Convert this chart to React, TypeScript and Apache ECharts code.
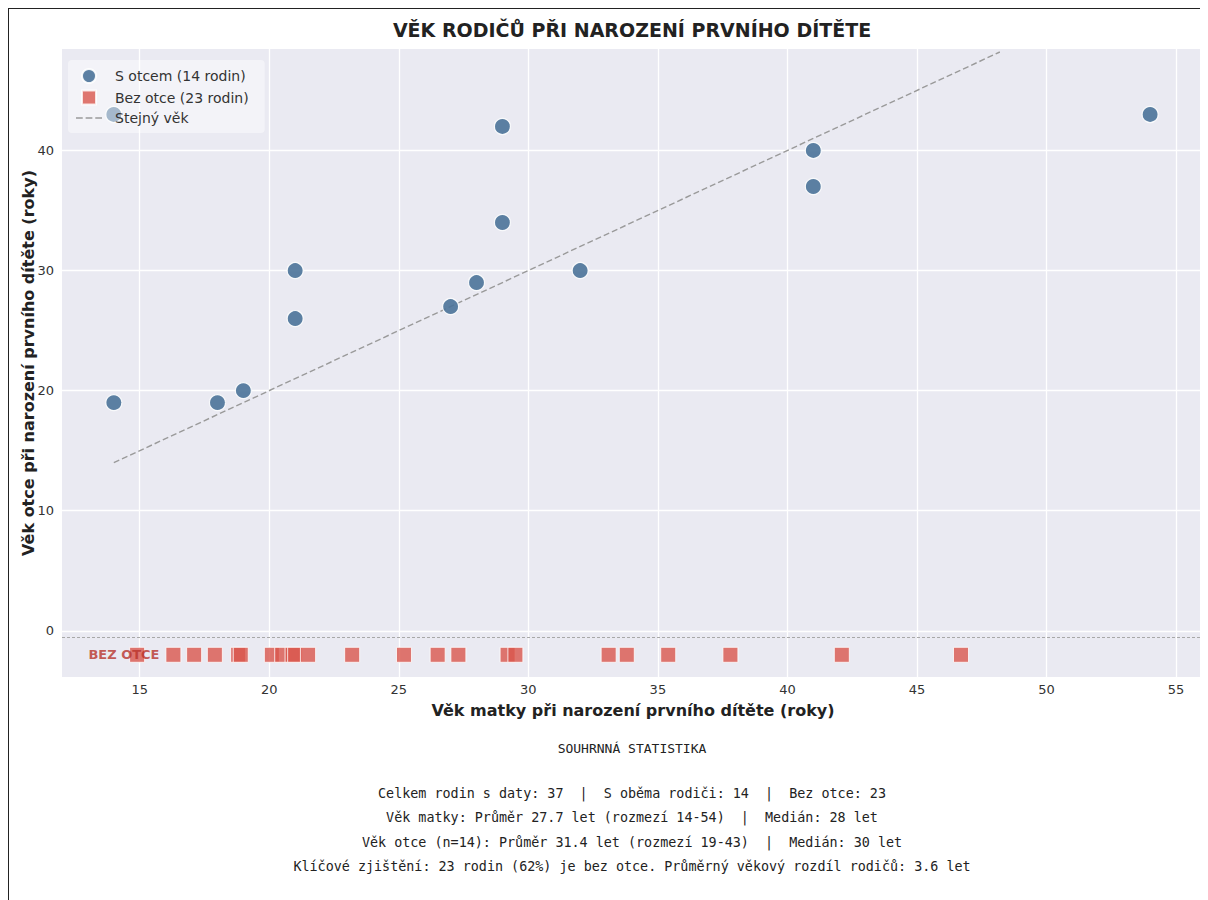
import React, { useEffect, useRef } from "react";
import * as echarts from "echarts";

// ---- data ----
const MOTHER_WITH_FATHER = [14, 14, 18, 19, 21, 21, 27, 28, 29, 29, 32, 41, 41, 54];
const FATHER_AGE = [43, 19, 19, 20, 30, 26, 27, 29, 34, 42, 30, 40, 37, 43];
const MOTHER_NO_FATHER = [
  14.9, 16.3, 17.1, 17.9, 18.8, 18.9, 20.1, 20.5, 20.9, 21.0, 21.5, 23.2, 25.2,
  26.5, 27.3, 29.2, 29.5, 33.1, 33.8, 35.4, 37.8, 42.1, 46.7,
];
const NO_FATHER_Y = -2;
const SEPARATOR_Y = -0.5;
const EQUAL_AGE_LINE = [
  [14, 14],
  [48.2, 48.2],
];
const BEZ_LABEL_POS = [13.0, NO_FATHER_Y];
const X_TICKS = [15, 20, 25, 30, 35, 40, 45, 50, 55];
const Y_TICKS = [0, 10, 20, 30, 40];
const SERIES_NAMES = ["S otcem (14 rodin)", "Bez otce (23 rodin)", "Stejný věk"];
const TITLE = "VĚK RODIČŮ PŘI NAROZENÍ PRVNÍHO DÍTĚTE";
const X_NAME = "Věk matky při narození prvního dítěte (roky)";
const Y_NAME = "Věk otce při narození prvního dítěte (roky)";
const STATS_TITLE = "SOUHRNNÁ STATISTIKA";
const STATS_LINES = [
  "Celkem rodin s daty: 37  |  S oběma rodiči: 14  |  Bez otce: 23",
  "Věk matky: Průměr 27.7 let (rozmezí 14-54)  |  Medián: 28 let",
  "Věk otce (n=14): Průměr 31.4 let (rozmezí 19-43)  |  Medián: 30 let",
  "Klíčové zjištění: 23 rodin (62%) je bez otce. Průměrný věkový rozdíl rodičů: 3.6 let",
];

const FONT = "DejaVu Sans";
const MONO = "DejaVu Sans Mono";

export default function App() {
  const ref = useRef<HTMLDivElement>(null);
  useEffect(() => {
    if (!ref.current) return;
    const chart = echarts.init(ref.current, null, { renderer: "svg" });
    const statsY = [784, 808, 833, 857];
    chart.setOption({
      animation: false,
      backgroundColor: "#ffffff",
      grid: {
        left: 53,
        right: 4,
        top: 40,
        bottom: 223,
        show: true,
        backgroundColor: "#EAEAF2",
        borderWidth: 0,
        outerBoundsMode: "none",
        containLabel: false,
      },
      legend: {
        orient: "vertical",
        left: 59,
        top: 51,
        padding: [8, 16, 8, 8],
        itemGap: 5.5,
        itemWidth: 26,
        itemHeight: 14,
        backgroundColor: "rgba(255,255,255,0.45)",
        borderRadius: 4,
        data: [
          { name: SERIES_NAMES[0], icon: "circle" },
          { name: SERIES_NAMES[1], icon: "path://M0,0H10V10H0Z" },
          {
            name: SERIES_NAMES[2],
            icon: "path://M0,0H7V1.4H0ZM10,0H17V1.4H10ZM20,0H27V1.4H20Z",
          },
        ],
        textStyle: { fontFamily: FONT, fontSize: 14, color: "#333", padding: [0, 0, 0, 8] },
      },
      xAxis: {
        type: "value",
        min: 12,
        max: 56.08,
        name: X_NAME,
        nameLocation: "middle",
        nameGap: 25,
        nameMoveOverlap: false,
        nameTextStyle: { fontFamily: FONT, fontSize: 16, fontWeight: "bold", color: "#222" },
        axisLine: { show: false },
        axisTick: { show: false, customValues: X_TICKS },
        axisLabel: {
          customValues: X_TICKS,
          fontFamily: FONT,
          fontSize: 13,
          color: "#333",
          margin: 6,
        },
        splitLine: { show: true, lineStyle: { color: "#ffffff", width: 1.3 } },
      },
      yAxis: {
        type: "value",
        min: -3.85,
        max: 48.45,
        name: Y_NAME,
        nameLocation: "middle",
        nameGap: 26,
        nameMoveOverlap: false,
        nameTextStyle: { fontFamily: FONT, fontSize: 16, fontWeight: "bold", color: "#222" },
        axisLine: { show: false },
        axisTick: { show: false, customValues: Y_TICKS },
        axisLabel: {
          customValues: Y_TICKS,
          fontFamily: FONT,
          fontSize: 13,
          color: "#333",
          margin: 8,
        },
        splitLine: { show: true, lineStyle: { color: "#ffffff", width: 1.3 } },
      },
      series: [
        {
          name: SERIES_NAMES[2],
          type: "line",
          data: EQUAL_AGE_LINE,
          symbol: "none",
          clip: true,
          z: 2,
          lineStyle: { color: "#9a9a9a", width: 1.4, type: [6, 3] },
          itemStyle: { color: "#9a9a9a" },
          markLine: {
            silent: true,
            symbol: "none",
            z: 2,
            label: { show: false },
            lineStyle: { color: "#a8a8a8", width: 1, type: [3, 2] },
            data: [{ yAxis: SEPARATOR_Y }],
          },
        },
        {
          name: SERIES_NAMES[0],
          type: "scatter",
          data: MOTHER_WITH_FATHER.map((m, i) => [m, FATHER_AGE[i]]),
          symbol: "circle",
          symbolSize: 16,
          z: 3,
          itemStyle: {
            color: "#4b7399",
            opacity: 0.9,
            borderColor: "#ffffff",
            borderWidth: 1.2,
          },
        },
        {
          name: SERIES_NAMES[1],
          type: "scatter",
          data: MOTHER_NO_FATHER.map((m) => [m, NO_FATHER_Y]),
          symbol: "rect",
          symbolSize: 15,
          z: 3,
          itemStyle: {
            color: "#d9564c",
            opacity: 0.8,
            borderColor: "#ffffff",
            borderWidth: 1,
          },
        },
        {
          name: "label",
          type: "scatter",
          data: [BEZ_LABEL_POS],
          symbolSize: 1,
          z: 5,
          silent: true,
          itemStyle: { color: "rgba(0,0,0,0)" },
          label: {
            show: true,
            position: "right",
            distance: 0,
            formatter: "BEZ OTCE",
            fontFamily: FONT,
            fontSize: 13,
            fontWeight: "bold",
            color: "#b8322a",
          },
        },
      ],
      graphic: [
        {
          type: "text",
          x: 623,
          y: 21,
          style: {
            text: TITLE,
            textAlign: "center",
            textVerticalAlign: "middle",
            fontFamily: FONT,
            fontSize: 19,
            fontWeight: "bold",
            fill: "#222",
          },
        },
        {
          type: "text",
          x: 623,
          y: 739,
          style: {
            text: STATS_TITLE,
            textAlign: "center",
            textVerticalAlign: "middle",
            fontFamily: MONO,
            fontSize: 13,
            fill: "#222",
          },
        },
        ...STATS_LINES.map((t, i) => ({
          type: "text",
          x: 623,
          y: statsY[i],
          style: {
            text: t,
            textAlign: "center",
            textVerticalAlign: "middle",
            fontFamily: MONO,
            fontSize: 13.4,
            fill: "#222",
          },
        })),
      ],
    });
    return () => chart.dispose();
  }, []);

  return (
    <div
      style={{
        width: 1200,
        height: 892,
        boxSizing: "border-box",
        borderTop: "1px solid #222",
        borderLeft: "1px solid #222",
        background: "#fff",
      }}
    >
      <div ref={ref} style={{ width: 1199, height: 891 }} />
    </div>
  );
}
